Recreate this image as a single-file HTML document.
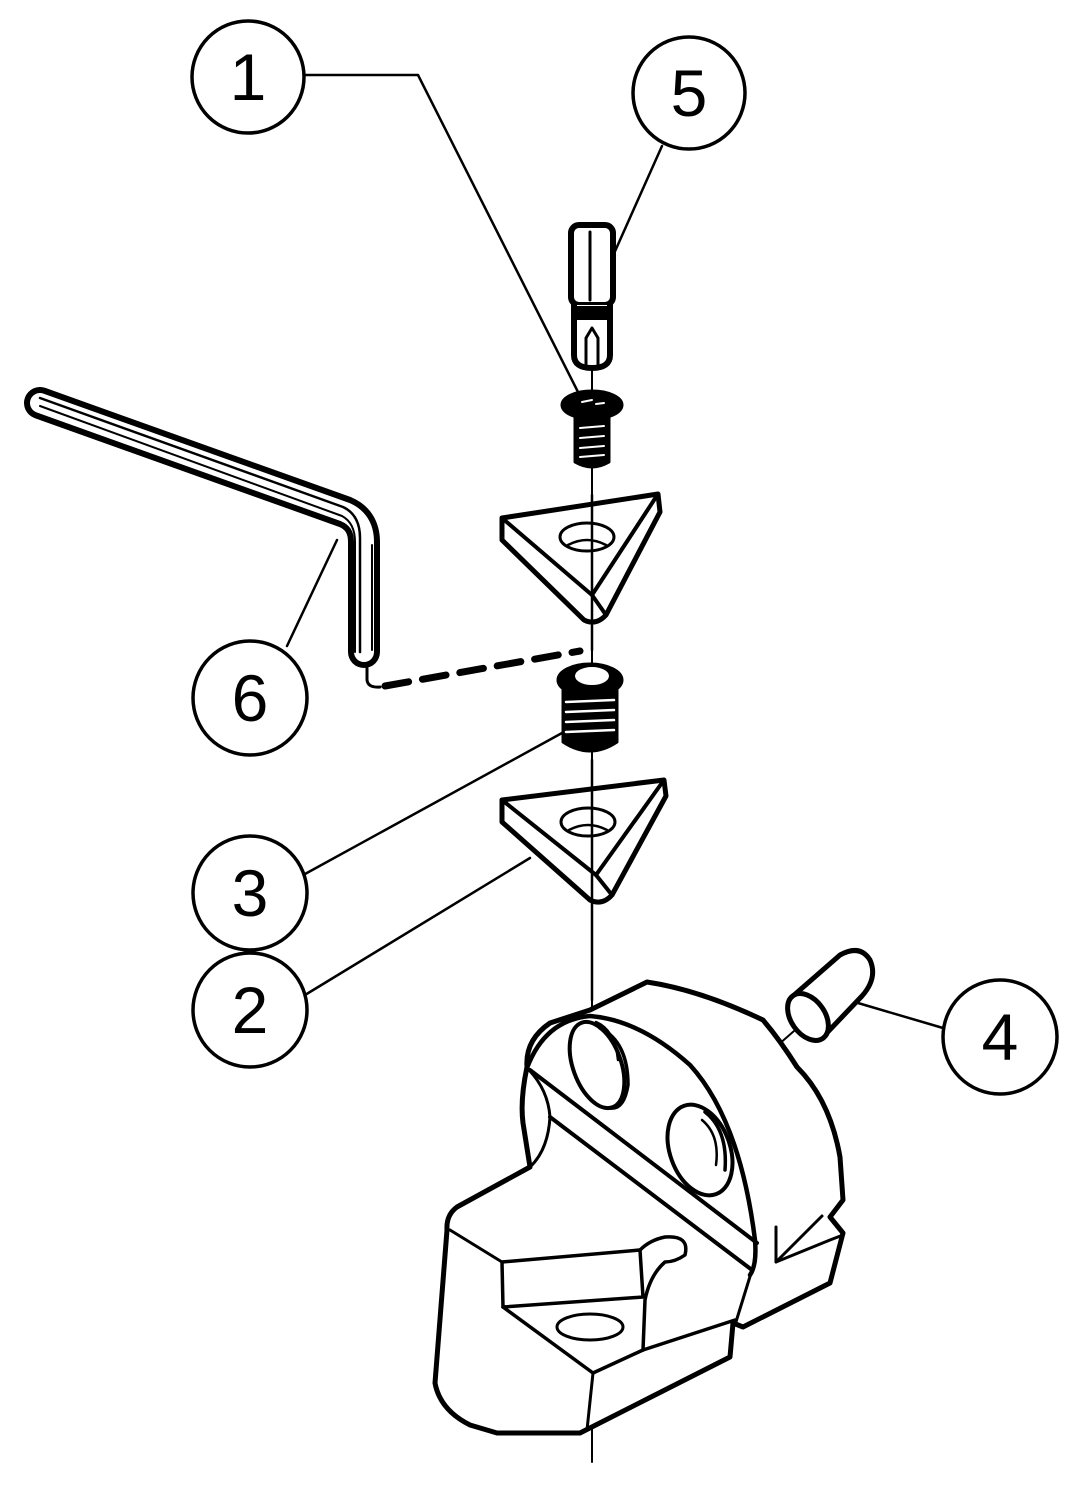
<!DOCTYPE html>
<html><head><style>html,body{margin:0;padding:0;background:#fff}svg{display:block}</style></head>
<body>
<svg width="1078" height="1500" viewBox="0 0 1078 1500" xmlns="http://www.w3.org/2000/svg" font-family="Liberation Sans, sans-serif">
<g fill="none" stroke="#000" stroke-linejoin="round" stroke-linecap="round">
<!-- central axis -->
<line x1="592" y1="370" x2="592" y2="1462" stroke-width="2"/>
<!-- leaders -->
<polyline points="304,75 418,75 578,392" stroke-width="2.5"/>
<line x1="662" y1="146" x2="612" y2="258" stroke-width="2.5"/>
<line x1="287" y1="646" x2="337" y2="540" stroke-width="2.5"/>
<line x1="305" y1="874" x2="562" y2="733" stroke-width="2.5"/>
<line x1="305" y1="995" x2="530" y2="858" stroke-width="2.5"/>
<line x1="943" y1="1028" x2="858" y2="1003" stroke-width="2.5"/>
<!-- circles -->
<circle cx="248" cy="77" r="56" stroke-width="3.5" fill="#fff"/>
<circle cx="689" cy="93" r="56" stroke-width="3.5" fill="#fff"/>
<circle cx="250" cy="698" r="57" stroke-width="3.5" fill="#fff"/>
<circle cx="250" cy="893" r="57" stroke-width="3.5" fill="#fff"/>
<circle cx="250" cy="1010" r="57" stroke-width="3.5" fill="#fff"/>
<circle cx="1000" cy="1037" r="57" stroke-width="3.5" fill="#fff"/>
<!-- allen key -->
<path d="M40,403 L345,512 Q364,520 364,542 L364,652" stroke-width="32"/>
<path d="M40,403 L345,512 Q364,520 364,542 L364,652" stroke="#fff" stroke-width="20"/>
<path d="M40,398 L343,507 Q360,515 360,538 L360,652" stroke-width="2.5"/>
<path d="M40,406 L342,516 Q355,523 355,542 L355,652" stroke-width="2"/>
<line x1="372" y1="545" x2="372" y2="650" stroke-width="2"/>
<!-- dashed line -->
<path d="M367,668 L367,680 Q368,688 380,687" stroke-width="3"/>
<path d="M385,686 L580,651" stroke-width="7" stroke-dasharray="24,14"/>
<!-- bit 5 -->
<rect x="571" y="225" width="42" height="80" rx="8" stroke-width="6"/>
<line x1="590" y1="232" x2="590" y2="300" stroke-width="3"/>
<path d="M574,305 L574,355 Q574,368 592,368 Q610,368 610,355 L610,305" stroke-width="6" fill="#fff"/>
<path d="M586,365 L586,338 L592,328 L598,338 L598,365" stroke-width="3"/>
<rect x="575" y="306" width="34" height="14" fill="#000" stroke="none"/>
<!-- screw 1 -->
<ellipse cx="592" cy="405" rx="30" ry="14" fill="#000" stroke-width="3"/>
<path d="M575,412 L575,462 Q592,472 609,462 L609,412" fill="#000" stroke-width="3"/>
<g stroke="#fff" stroke-width="2"><line x1="580" y1="428" x2="604" y2="426"/><line x1="580" y1="438" x2="604" y2="436"/><line x1="580" y1="448" x2="604" y2="446"/><line x1="580" y1="457" x2="604" y2="455"/><line x1="582" y1="402" x2="592" y2="400"/><line x1="596" y1="404" x2="604" y2="403"/></g>
<!-- top insert -->
<path d="M502,518 L658,494 L660,512 L606,615 Q596,626 584,620 L502,540 Z" fill="#fff" stroke-width="5"/>
<path d="M502,518 L592,595 L658,494" stroke-width="4"/>
<path d="M592,595 L606,615" stroke-width="4"/>
<ellipse cx="587" cy="537" rx="27" ry="14" stroke-width="3"/>
<path d="M568,545 Q587,535 606,545" stroke-width="2.5"/>
<line x1="592" y1="495" x2="592" y2="650" stroke-width="2.5"/>
<!-- screw 3 -->
<ellipse cx="590" cy="680" rx="32" ry="16" fill="#000" stroke-width="3"/>
<path d="M563,685 L563,742 Q590,760 617,742 L617,685" fill="#000" stroke-width="3"/>
<ellipse cx="592" cy="676" rx="18" ry="10" fill="#fff" stroke-width="2"/>
<g stroke="#fff" stroke-width="2.5"><line x1="566" y1="702" x2="614" y2="700"/><line x1="566" y1="712" x2="614" y2="710"/><line x1="566" y1="722" x2="614" y2="720"/><line x1="566" y1="732" x2="614" y2="730"/></g>
<!-- lower insert -->
<path d="M502,800 L664,780 L666,796 L612,895 Q602,906 590,900 L502,822 Z" fill="#fff" stroke-width="5"/>
<path d="M502,800 L596,875 L664,780" stroke-width="4"/>
<path d="M596,875 L612,895" stroke-width="4"/>
<ellipse cx="588" cy="822" rx="27" ry="14" stroke-width="3"/>
<path d="M569,830 Q588,820 607,830" stroke-width="2.5"/>
<line x1="592" y1="760" x2="592" y2="1000" stroke-width="2.5"/>
<!-- pin 4 -->
<line x1="778" y1="1045" x2="810" y2="1017" stroke-width="2"/>
<path d="M793,996 L840,955 Q860,944 870,960 Q878,978 862,996 L822,1038" fill="#fff" stroke-width="5"/>
<ellipse cx="808" cy="1017" rx="17" ry="26" transform="rotate(-35 808 1017)" fill="#fff" stroke-width="5"/>
<!-- body -->
<path d="M435,1383 Q440,1410 470,1425 L497,1433 L580,1433 L730,1357 L733,1323 L743,1327 L830,1283 L843,1233 L830,1217 L843,1200 L840,1157 Q830,1100 797,1067 Q780,1040 763,1020 Q700,990 647,982 L590,1010 L550,1023 Q525,1040 527,1067 Q520,1100 523,1123 L530,1167 L457,1207 Q446,1215 447,1230 Z" fill="#fff" stroke-width="5"/>
<path d="M527,1068 Q545,1020 590,1016 Q640,1020 690,1065 Q740,1120 755,1240 Q757,1265 750,1275" stroke-width="4.5"/>
<path d="M529,1070 Q548,1090 550,1117 Q548,1150 530,1167" stroke-width="3"/>
<line x1="530" y1="1070" x2="757" y2="1243" stroke-width="4"/>
<line x1="550" y1="1117" x2="752" y2="1270" stroke-width="4"/>
<path d="M752,1270 L735,1325" stroke-width="3"/>
<path d="M776,1227 L776,1262 L830,1240 L843,1235" stroke-width="3"/>
<path d="M776,1262 L822,1216" stroke-width="3"/>
<ellipse cx="597" cy="1065" rx="24" ry="45" transform="rotate(-20 597 1065)" stroke-width="4"/>
<path d="M600,1028 Q628,1042 628,1085 Q624,1110 610,1108" stroke-width="3.5"/>
<path d="M596,1022 Q615,1030 618,1060" stroke-width="2.5"/>
<ellipse cx="700" cy="1150" rx="30" ry="47" transform="rotate(-20 700 1150)" stroke-width="4"/>
<path d="M705,1112 Q728,1130 725,1170" stroke-width="3.5"/>
<path d="M702,1120 Q720,1135 716,1165" stroke-width="2.5"/>
<!-- left block -->
<path d="M450,1230 L502,1262" stroke-width="3"/>
<path d="M502,1262 L640,1250 L643,1297 L503,1307 Z" stroke-width="3.5"/>
<path d="M640,1250 Q650,1240 665,1237 Q690,1235 685,1255 Q675,1262 665,1262 Q650,1275 645,1300 L643,1350" stroke-width="3.5"/>
<path d="M503,1307 L593,1373 L643,1350 L735,1320" stroke-width="3.5"/>
<path d="M593,1373 L587,1430" stroke-width="3"/>
<ellipse cx="590" cy="1327" rx="33" ry="13" stroke-width="3"/>
</g>
<g font-size="66" text-anchor="middle" fill="#000">
<text x="248" y="100">1</text>
<text x="689" y="116">5</text>
<text x="250" y="721">6</text>
<text x="250" y="916">3</text>
<text x="250" y="1033">2</text>
<text x="1000" y="1060">4</text>
</g>
</svg>
</body></html>
